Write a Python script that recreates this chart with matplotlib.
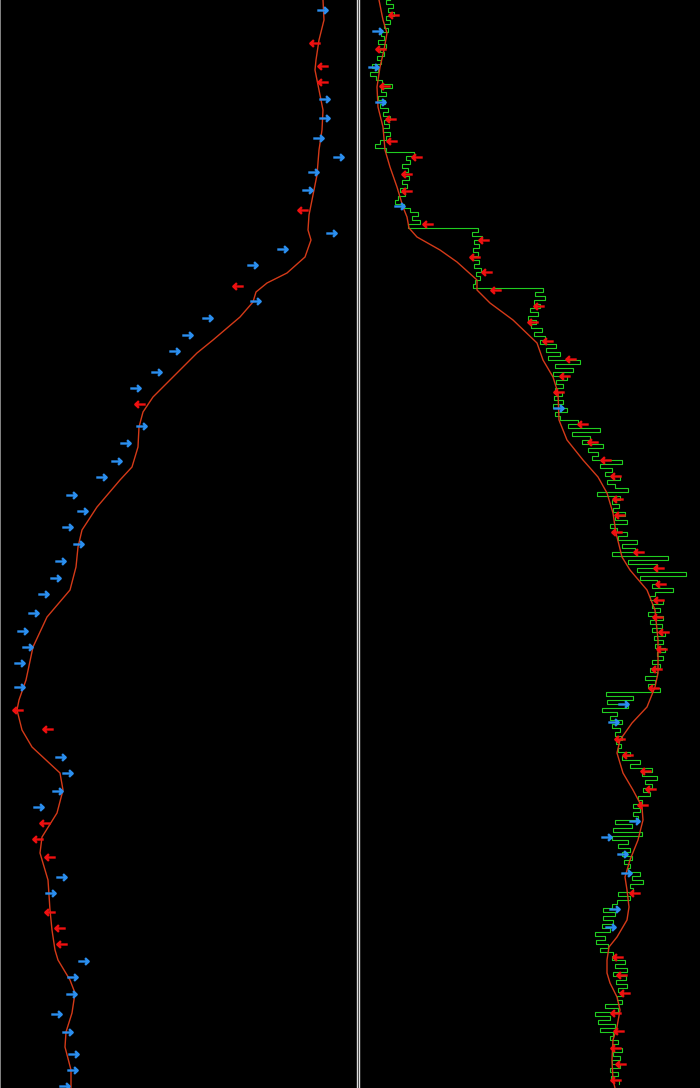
import matplotlib
matplotlib.use("Agg")
import matplotlib.pyplot as plt
from matplotlib.path import Path
import numpy as np

# left panel: smoothed price (time runs downward)
left_t = [0, 20, 40, 60, 70, 90, 110, 130, 150, 175, 200, 215, 230, 240, 257, 273, 283,
          292, 302, 317, 340, 353, 377, 397, 412, 427, 447, 467, 480, 507, 530, 547, 567,
          590, 617, 647, 680, 700, 710, 730, 747, 773, 790, 813, 837, 853, 880, 910, 930,
          950, 960, 980, 993, 1013, 1032, 1047, 1070, 1088]
left_p = [323, 324, 319, 316, 315, 319, 323, 322, 319, 317, 312, 309, 308, 311, 305, 287, 267,
          256, 253, 240, 213, 197, 173, 153, 143, 139, 138, 132, 120, 97, 82, 78, 76,
          70, 47, 33, 26, 19, 17, 22, 32, 60, 63, 57, 42, 40, 48, 50, 52,
          55, 58, 70, 75, 72, 66, 65, 71, 71]

left_buy_t = [10, 99, 118, 138, 157, 172, 190, 233, 249, 265, 301, 318, 335, 351, 372, 388,
              426, 443, 461, 477, 495, 511, 527, 544, 561, 578, 594, 613, 631, 647, 663, 687,
              757, 773, 791, 807, 877, 893, 961, 977, 994, 1014, 1032, 1054, 1070, 1086]
left_buy_p = [322, 324, 324, 318, 338, 313, 307, 331, 282, 252, 255, 207, 187, 174, 156, 135,
              141, 125, 116, 101, 71, 82, 67, 78, 60, 55, 43, 33, 22, 27, 19, 19,
              60, 67, 57, 38, 61, 50, 83, 72, 71, 56, 67, 73, 72, 64]
left_sell_t = [43, 66, 82, 210, 286, 404, 710, 729, 823, 839, 857, 912, 928, 944]
left_sell_p = [315, 323, 323, 303, 238, 140, 18, 48, 45, 38, 50, 50, 60, 62]

# right panel: smoothed price
right_t = [0, 20, 33, 50, 67, 87, 107, 127, 150, 167, 187, 207, 217, 228, 237, 250, 262,
           280, 290, 303, 320, 343, 360, 377, 393, 420, 440, 460, 477, 493, 513, 533, 557,
           570, 590, 610, 640, 673, 687, 707, 723, 740, 753, 773, 790, 807, 820, 840, 860,
           877, 890, 907, 920, 937, 947, 960, 973, 983, 997, 1010, 1027, 1040, 1060, 1080, 1088]
right_p = [379, 383, 387, 384, 380, 377, 378, 383, 385, 390, 397, 403, 407, 409, 417, 440, 457,
           477, 477, 490, 513, 537, 543, 553, 558, 559, 567, 583, 598, 607, 613, 616, 622,
           630, 647, 655, 658, 658, 655, 647, 632, 620, 617, 623, 633, 642, 643, 638, 630,
           625, 627, 629, 627, 617, 609, 607, 607, 610, 617, 620, 617, 613, 612, 613, 615]

# right panel: raw price, one sample every 4 time units
raw_step = 4
raw_p = [
    390, 386, 393, 388, 394, 386, 390, 384, 388, 381,
    384, 378, 386, 380, 384, 377, 381, 372, 378, 370,
    376, 382, 392, 381, 386, 378, 385, 380, 388, 383,
    390, 384, 389, 383, 390, 386, 380, 375, 386, 414,
    406, 410, 402, 408, 403, 409, 402, 407, 400, 405,
    398, 395, 404, 410, 418, 412, 420, 408, 478, 472,
    482, 474, 479, 473, 478, 472, 479, 474, 481, 476,
    480, 475, 473, 543, 535, 545, 534, 540, 530, 538,
    528, 536, 531, 542, 534, 545, 540, 556, 546, 560,
    548, 580, 555, 573, 553, 567, 556, 563, 555, 562,
    554, 563, 553, 567, 555, 560, 578, 568, 600, 572,
    590, 582, 603, 588, 598, 592, 622, 600, 612, 605,
    620, 607, 615, 628, 597, 620, 612, 619, 613, 625,
    615, 627, 610, 617, 627, 618, 637, 622, 635, 612,
    668, 628, 657, 637, 686, 640, 657, 652, 673, 655,
    650, 663, 652, 660, 648, 663, 650, 662, 652, 665,
    654, 663, 655, 665, 657, 663, 652, 660, 650, 657,
    645, 655, 648, 660, 606, 633, 607, 628, 602, 617,
    610, 622, 612, 620, 615, 622, 616, 621, 618, 630,
    622, 640, 630, 652, 642, 657, 645, 652, 643, 650,
    638, 642, 633, 640, 633, 638, 615, 632, 613, 642,
    612, 628, 618, 630, 622, 632, 624, 630, 628, 640,
    632, 643, 630, 633, 618, 630, 617, 612, 603, 615,
    603, 613, 602, 610, 595, 605, 596, 608, 600, 613,
    612, 625, 615, 627, 613, 626, 616, 627, 618, 623,
    617, 622, 605, 618, 595, 610, 598, 615, 600, 613,
    610, 618, 612, 622, 613, 620, 612, 620, 610, 618,
    611, 619,
]
raw_t = np.arange(len(raw_p)) * raw_step

right_buy_t = [31, 67, 102, 206, 408, 704, 722, 821, 837, 854, 873, 909, 927]
right_buy_p = [377, 373, 380, 399, 558, 623, 613, 634, 606, 622, 626, 614, 610]
right_sell_t = [15, 49, 86, 119, 141, 157, 174, 191, 224, 240, 257, 272, 290, 306, 322, 341,
                359, 376, 392, 424, 442, 460, 476, 499, 515, 532, 552, 568, 584, 600, 617,
                632, 649, 669, 688, 739, 755, 771, 789, 805, 893, 957, 975, 993, 1013, 1031,
                1048, 1064, 1080]
right_sell_p = [394, 381, 385, 391, 392, 417, 407, 407, 428, 484, 475, 487, 496, 539, 533, 548,
                571, 565, 559, 583, 593, 606, 616, 618, 620, 617, 639, 659, 661, 659, 658,
                664, 662, 657, 654, 620, 628, 646, 651, 643, 635, 618, 622, 625, 616, 619,
                616, 621, 616]

# arrow markers
right_arrow = Path([(-1, 0), (0.9, 0), (0.3, 0.65), (1, 0), (0.3, -0.65)],
                   [Path.MOVETO, Path.LINETO, Path.MOVETO, Path.LINETO, Path.LINETO])
left_arrow = Path([(1, 0), (-0.9, 0), (-0.3, 0.65), (-1, 0), (-0.3, -0.65)],
                  [Path.MOVETO, Path.LINETO, Path.MOVETO, Path.LINETO, Path.LINETO])

blue = "#2b8ff0"
red = "#f01010"
smooth_col = "#d43a18"
green = "#20cc20"
edge = "#dcdcdc"

fig = plt.figure(figsize=(7, 10.88), dpi=100, facecolor="black")
ax_l = fig.add_axes([0, 0, 357 / 700, 1])
ax_r = fig.add_axes([359 / 700, 0, 341 / 700, 1])

for ax in (ax_l, ax_r):
    ax.set_facecolor("black")
    ax.set_xticks([])
    ax.set_yticks([])
    for s in ax.spines.values():
        s.set_visible(False)
    ax.set_ylim(1088, 0)

ax_l.set_xlim(0, 357)
ax_r.set_xlim(359, 700)
ax_l.spines["left"].set_visible(True)
ax_l.spines["left"].set_color("#9a9a9a")
ax_l.spines["left"].set_linewidth(1.2)
ax_l.spines["right"].set_visible(True)
ax_l.spines["right"].set_color(edge)
ax_l.spines["right"].set_linewidth(1.0)
ax_r.spines["left"].set_visible(True)
ax_r.spines["left"].set_color(edge)
ax_r.spines["left"].set_linewidth(1.0)

mk = dict(linestyle="none", markersize=7.5, markeredgewidth=1.7,
          markerfacecolor="none", zorder=4)

ax_l.plot(left_p, left_t, color=smooth_col, lw=1.0, zorder=3)
ax_l.plot(left_buy_p, left_buy_t, marker=right_arrow, markeredgecolor=blue, **mk)
ax_l.plot(left_sell_p, left_sell_t, marker=left_arrow, markeredgecolor=red, **mk)

ax_r.plot(raw_p, raw_t, color=green, lw=0.8, drawstyle="steps-post", zorder=2)
ax_r.plot(right_p, right_t, color=smooth_col, lw=1.0, zorder=3)
ax_r.plot(right_buy_p, right_buy_t, marker=right_arrow, markeredgecolor=blue, **mk)
ax_r.plot(right_sell_p, right_sell_t, marker=left_arrow, markeredgecolor=red, **mk)

fig.savefig("out.png", dpi=100, facecolor="black")
